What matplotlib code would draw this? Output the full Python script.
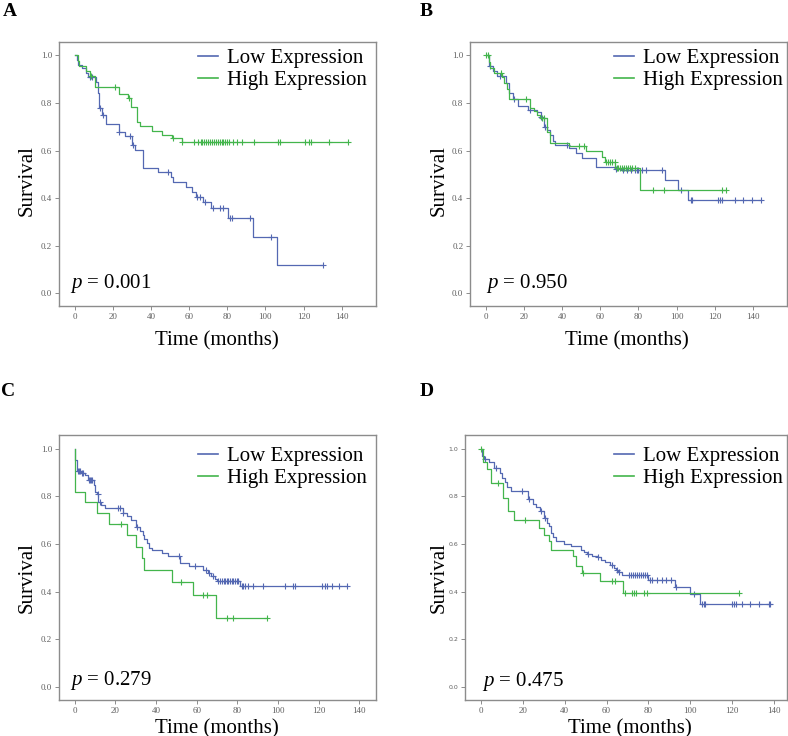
import numpy as np
import matplotlib
matplotlib.use("Agg")
import matplotlib.pyplot as plt

plt.rcParams['font.family'] = ['Liberation Serif', 'DejaVu Serif']
plt.rcParams['mathtext.fontset'] = 'custom'
plt.rcParams['mathtext.rm'] = 'Liberation Serif'
plt.rcParams['mathtext.it'] = 'Liberation Serif:italic'

blue = '#5468b2'
green = '#43b54c'

# panel A
a_low_t = [1, 2, 4, 6, 7, 11, 12, 12.5, 13, 14.5, 16.5, 23.2, 26.4, 30.2, 31.8, 35.6, 43.9,
           50.5, 51.5, 58.5, 61.4, 63.5, 67.5, 71.4, 80.5, 93.7, 105.9]
a_low_s = [0.98, 0.96, 0.945, 0.925, 0.909, 0.89, 0.84, 0.80, 0.778, 0.75, 0.711, 0.677, 0.662,
           0.624, 0.604, 0.526, 0.508, 0.488, 0.468, 0.447, 0.427, 0.406, 0.385, 0.358, 0.318,
           0.238, 0.119]
a_low_c = [8, 9, 13.3, 14.9, 23.4, 29, 30.5, 49, 64.3, 65.7, 68.3, 72.6, 76.2, 77.6, 81.5, 82.5,
           92, 102.8, 130]
a_high_t = [1.5, 2.5, 5.9, 8, 10.6, 23.5, 27.8, 29.4, 32.9, 34.3, 40.8, 46, 51, 56.1]
a_high_s = [0.978, 0.955, 0.935, 0.913, 0.869, 0.837, 0.82, 0.785, 0.722, 0.704, 0.684, 0.666,
            0.652, 0.635]
a_high_c = [8.5, 21.3, 28.5, 51.8, 56.5, 62.8, 64.7, 66, 67, 68, 69, 70, 71, 72, 73, 74, 75, 76,
            77, 78, 79, 80, 81, 83.2, 85, 87.9, 94.1, 106.8, 107.7, 120.8, 123.1, 123.8, 133.6, 143.5]

# panel B
b_low_t = [1.5, 3.8, 6, 10.3, 12, 14.3, 16.8, 22.2, 26.6, 28.7, 30.4, 32.2, 33.6, 35.3, 36.2,
           43.5, 47, 50.5, 57.5, 67.8, 71, 93.7, 100.7, 105.9]
b_low_s = [0.957, 0.935, 0.915, 0.885, 0.84, 0.816, 0.788, 0.77, 0.76, 0.74, 0.70, 0.685, 0.665,
           0.64, 0.625, 0.61, 0.59, 0.57, 0.533, 0.523, 0.517, 0.477, 0.435, 0.393]
b_low_c = [2, 7.3, 14.5, 23, 29, 30.8, 42.3, 68, 72, 74, 76, 78, 79, 80, 82, 84, 92.4, 102.5,
           107.5, 108, 121.8, 123, 123.9, 130.5, 134.9, 139.6, 144]
b_high_t = [1.6, 2.4, 4.2, 8.6, 9.4, 11.2, 12, 22.9, 25.2, 27, 28.5, 32.2, 33.7, 43.5, 52.3, 61,
            62.4, 67.7, 80.6]
b_high_s = [0.97, 0.945, 0.925, 0.91, 0.885, 0.86, 0.815, 0.778, 0.765, 0.75, 0.735, 0.68, 0.631,
            0.621, 0.6, 0.575, 0.55, 0.525, 0.436]
b_high_c = [0, 1, 7.7, 21, 29.5, 30.5, 48.7, 51.4, 63, 64, 65, 66, 67.5, 68.5, 69.5, 70.5, 71.5,
            72.5, 73.5, 74.5, 75.5, 76.5, 78, 87.7, 93.5, 123.9, 126]

# panel C
c_low_t = [0.3, 1.2, 3, 5, 6.5, 9.5, 10, 10.8, 11.7, 13, 14.8, 23.6, 25.5, 27.5, 30, 32, 33.4,
           34.2, 35.5, 36.7, 38, 43, 45.8, 51.8, 56.3, 63.2, 65.5, 67.2, 69, 70, 81.3]
c_low_s = [0.954, 0.905, 0.897, 0.89, 0.87, 0.848, 0.82, 0.81, 0.778, 0.765, 0.753, 0.732, 0.718,
           0.70, 0.673, 0.655, 0.64, 0.622, 0.605, 0.584, 0.577, 0.563, 0.549, 0.521, 0.507,
           0.493, 0.479, 0.465, 0.455, 0.447, 0.424]
c_low_c = [1.6, 2.2, 2.8, 3.5, 4, 7, 7.6, 8.2, 8.6, 11.3, 12.6, 21.3, 22.3, 23.9, 30.5, 51.4, 59,
           64.5, 66, 68, 70.5, 71.5, 72.5, 73.3, 74, 74.8, 75.6, 76.4, 77.2, 78, 78.8, 79.6, 80.4,
           82.1, 82.9, 83.8, 85.4, 87.9, 92.5, 103.4, 107.5, 108.4, 121.5, 123.1, 124.2, 126.4,
           130.2, 133.8]
c_high_t = [0.1, 5.1, 11.1, 17, 25.9, 30.2, 32.9, 34, 47.9, 58.4, 69.5]
c_high_s = [0.82, 0.776, 0.732, 0.683, 0.636, 0.587, 0.543, 0.492, 0.44, 0.387, 0.289]
c_high_c = [23, 52.3, 63, 65, 74.8, 78, 94.7]

# panel D
d_low_t = [0.5, 1.5, 3.7, 6.1, 8.9, 10, 11.2, 12.5, 14.4, 22.5, 24.9, 26, 28, 30, 31.6, 32.4,
           33.2, 34.3, 35.6, 39.6, 42.8, 47.6, 49.2, 50.8, 53, 55.9, 57.5, 59.5, 61.6, 63.5, 64.5,
           65.5, 67.2, 79.7, 92.9, 99.8, 104.9]
d_low_s = [0.97, 0.957, 0.945, 0.92, 0.9, 0.875, 0.86, 0.84, 0.822, 0.79, 0.77, 0.755, 0.74, 0.71,
           0.69, 0.675, 0.645, 0.63, 0.613, 0.6, 0.59, 0.575, 0.565, 0.558, 0.55, 0.545, 0.535,
           0.525, 0.512, 0.5, 0.49, 0.482, 0.472, 0.45, 0.421, 0.391, 0.347]
d_low_c = [1.8, 6.9, 19.6, 22.8, 28.4, 30.5, 51, 56, 62.4, 65, 66, 70.6, 71.5, 72.5, 73.5, 74.5,
           75.5, 76.5, 77.5, 78.5, 79.4, 80.9, 81.7, 84.1, 86.5, 88.5, 90.8, 93.2, 102.1, 105.7,
           106.5, 107.3, 120.1, 121.2, 122.2, 124.9, 128.6, 132.9, 137.7, 138.5]
d_high_t = [0.9, 2.7, 4.6, 10.4, 12.8, 15.8, 27.5, 29.9, 32.3, 33.4, 43.9, 45.5, 48.2, 56.7, 67.9]
d_high_s = [0.946, 0.913, 0.858, 0.793, 0.737, 0.702, 0.667, 0.639, 0.611, 0.576, 0.548, 0.508,
            0.48, 0.447, 0.396]
d_high_c = [0, 7.9, 20.8, 48.5, 62.4, 64, 69, 72.2, 73.3, 74.2, 77.8, 79.4, 123.3]

panels = [
    ('A', '0.001', a_low_t, a_low_s, a_low_c, a_high_t, a_high_s, a_high_c),
    ('B', '0.950', b_low_t, b_low_s, b_low_c, b_high_t, b_high_s, b_high_c),
    ('C', '0.279', c_low_t, c_low_s, c_low_c, c_high_t, c_high_s, c_high_c),
    ('D', '0.475', d_low_t, d_low_s, d_low_c, d_high_t, d_high_s, d_high_c),
]

# layout (figure fractions) and axis ranges per panel
rects = [[0.0749, 0.5842, 0.4023, 0.3587],
         [0.5968, 0.5842, 0.4015, 0.3587],
         [0.0749, 0.0493, 0.4023, 0.3592],
         [0.5901, 0.0493, 0.4082, 0.3592]]
xlims = [(-8.2, 158), (-8.2, 157.7), (-7.7, 148.2), (-7.8, 146.3)]
letter_pos = [(0.004, 0.978), (0.533, 0.978), (0.001, 0.462), (0.533, 0.462)]
ylab_x = [-0.07, -0.067, -0.07, -0.05]
ylab_y = [0.477, 0.477, 0.461, 0.461]
xlab_y = [-0.095, -0.095, -0.074, -0.074]
xlab_x = [0.497, 0.496, 0.497, 0.513]
leg_x = [0.972, 0.988, 0.972, 0.988]
leg_y = [0.975, 0.975, 0.958, 0.958]
p_pos = [(0.035, 0.068), (0.05, 0.07), (0.035, 0.057), (0.054, 0.05)]


def km_line(ax, times, surv, cens, color, label):
    x = np.concatenate([[0.0], times])
    y = np.concatenate([[1.0], surv])
    end = max(max(cens), x[-1]) if len(cens) else x[-1]
    if end > x[-1]:
        x = np.append(x, end)
        y = np.append(y, y[-1])
    ax.step(x, y, where='post', color=color, lw=0.9, label=label)
    c = np.array(cens, dtype=float)
    idx = np.searchsorted(x, c, side='right') - 1
    ax.plot(c, y[idx], ls='none', marker='+', ms=4, mew=0.8, color=color)


fig = plt.figure(figsize=(7.88, 7.36), dpi=100)

for i, (letter, pval, lt, ls, lc, ht, hs, hc) in enumerate(panels):
    ax = fig.add_axes(rects[i])
    km_line(ax, lt, ls, lc, blue, 'Low Expression')
    km_line(ax, ht, hs, hc, green, 'High Expression')
    ax.set_xlim(*xlims[i])
    ax.set_ylim(-0.053, 1.056)
    ax.set_xticks(np.arange(0, 141, 20))
    ax.set_yticks(np.arange(0, 1.01, 0.2))
    ax.set_yticklabels([f'{v:.1f}' for v in np.arange(0, 1.01, 0.2)])
    for sp in ax.spines.values():
        sp.set_color('#8c8c8c')
        sp.set_linewidth(1.0)
    ax.tick_params(direction='out', length=3, width=0.7, colors='#8c8c8c',
                   labelcolor='#606060', labelsize=6.5, pad=2)
    if letter == 'D':
        for lab in ax.get_yticklabels():
            lab.set_family('DejaVu Sans')
            lab.set_fontsize(4.5)

    ax.set_ylabel('Survival', fontsize=15)
    ax.yaxis.set_label_coords(ylab_x[i], ylab_y[i])
    ax.set_xlabel('Time (months)', fontsize=15)
    ax.xaxis.set_label_coords(xlab_x[i], xlab_y[i])

    leg = ax.legend(loc='upper right', bbox_to_anchor=(leg_x[i], leg_y[i]), frameon=False,
                    fontsize=15, handlelength=0.95, handletextpad=0.45, labelspacing=0.12,
                    borderpad=0, borderaxespad=0)
    for h in leg.get_lines():
        h.set_linewidth(1.2)

    ax.text(p_pos[i][0], p_pos[i][1], r'$p$ = ' + pval, transform=ax.transAxes,
            fontsize=15, va='baseline', ha='left')

    fig.text(letter_pos[i][0], letter_pos[i][1], letter, fontsize=14, fontweight='bold',
             va='baseline', ha='left')

fig.savefig('out.png', dpi=100)
